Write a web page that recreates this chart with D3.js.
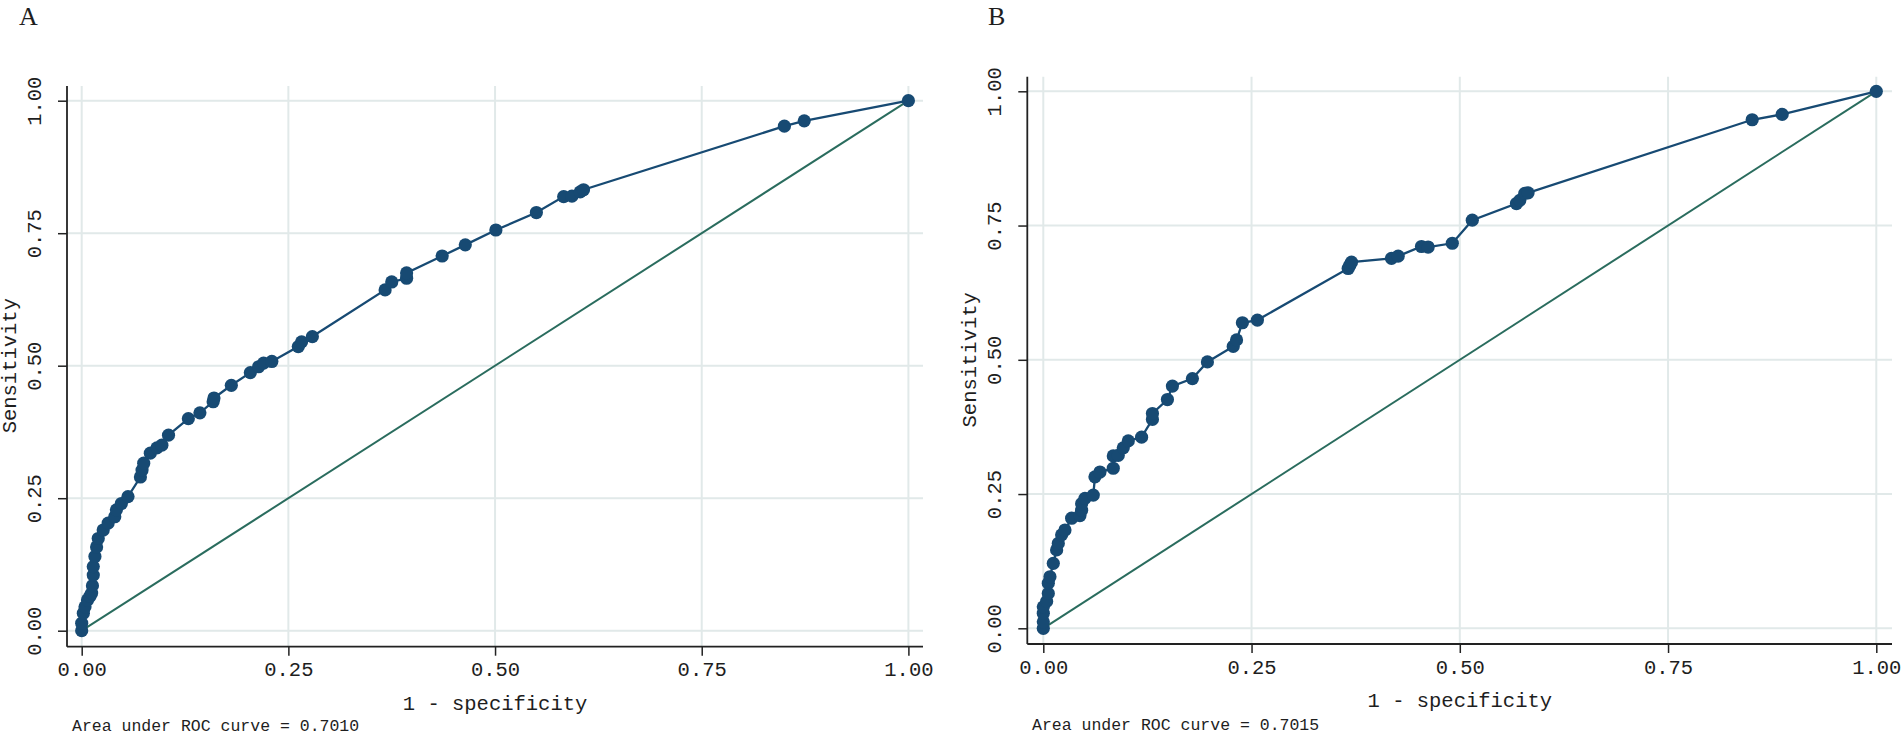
<!DOCTYPE html>
<html>
<head>
<meta charset="utf-8">
<script src="https://cdn.jsdelivr.net/npm/d3@7"></script>
<style>
  html, body { margin: 0; padding: 0; background: #fff; }
  svg { display: block; }
  text { fill: #1e1e1e; }
</style>
</head>
<body>
<svg id="chart" width="1904" height="737"></svg>
<script>
// ---------------- data ----------------
const panelLabels = ["A", "B"];
const tickValues = [0, 0.25, 0.5, 0.75, 1];
const tickLabels = ["0.00", "0.25", "0.50", "0.75", "1.00"];
const xTitle = "1 - specificity";
const yTitle = "Sensitivity";
const aucLabels = ["Area under ROC curve = 0.7010", "Area under ROC curve = 0.7015"];

const fprA = [0, 0, 0.002, 0.004, 0.007, 0.010, 0.012, 0.013, 0.014, 0.014, 0.016, 0.018, 0.020, 0.026,
  0.032, 0.040, 0.042, 0.048, 0.056, 0.071, 0.073, 0.075, 0.083, 0.091, 0.097, 0.105, 0.129, 0.143,
  0.159, 0.160, 0.181, 0.204, 0.214, 0.220, 0.230, 0.262, 0.266, 0.279, 0.367, 0.375, 0.393, 0.393,
  0.436, 0.464, 0.501, 0.550, 0.583, 0.593, 0.603, 0.607, 0.850, 0.874, 1];
const tprA = [0, 0.014, 0.033, 0.045, 0.058, 0.065, 0.071, 0.085, 0.105, 0.121, 0.140, 0.158, 0.174, 0.190,
  0.203, 0.215, 0.228, 0.240, 0.253, 0.290, 0.303, 0.316, 0.335, 0.345, 0.350, 0.369, 0.400, 0.411,
  0.432, 0.439, 0.463, 0.487, 0.498, 0.505, 0.508, 0.536, 0.545, 0.555, 0.643, 0.658, 0.665, 0.675,
  0.707, 0.728, 0.756, 0.789, 0.819, 0.820, 0.828, 0.832, 0.952, 0.962, 1];

const fprB = [0, 0, 0, 0, 0.004, 0.006, 0.006, 0.008, 0.012, 0.016, 0.018, 0.022, 0.026, 0.034, 0.044,
  0.046, 0.046, 0.050, 0.060, 0.062, 0.068, 0.084, 0.084, 0.090, 0.096, 0.102, 0.118, 0.131, 0.131,
  0.149, 0.155, 0.179, 0.197, 0.228, 0.232, 0.239, 0.257, 0.366, 0.368, 0.370, 0.418, 0.426, 0.454,
  0.462, 0.491, 0.515, 0.568, 0.572, 0.578, 0.582, 0.851, 0.887, 1];
const tprB = [0, 0.012, 0.028, 0.040, 0.050, 0.065, 0.084, 0.096, 0.121, 0.146, 0.158, 0.174, 0.183, 0.205, 0.210,
  0.220, 0.232, 0.242, 0.248, 0.282, 0.291, 0.298, 0.321, 0.322, 0.336, 0.349, 0.356, 0.389, 0.400,
  0.426, 0.451, 0.465, 0.496, 0.525, 0.537, 0.569, 0.574, 0.670, 0.676, 0.682, 0.689, 0.693, 0.711,
  0.710, 0.717, 0.760, 0.791, 0.797, 0.810, 0.811, 0.947, 0.957, 1];

// ---------------- layout ----------------
const panels = [
  { label: panelLabels[0], fpr: fprA, tpr: tprA, auc: aucLabels[0],
    x0: 81.7, x1: 908.4, y0: 630.7, y1: 100.7, axisX: 67, axisY: 646.7, top: 86, right: 923,
    labelX: 19, labelY: 25, aucX: 72, aucY: 731 },
  { label: panelLabels[1], fpr: fprB, tpr: tprB, auc: aucLabels[1],
    x0: 1043.3, x1: 1876.3, y0: 628.3, y1: 91.3, axisX: 1027.3, axisY: 644, top: 76.7, right: 1892,
    labelX: 988, labelY: 25, aucX: 1032, aucY: 730 }
];

const COL_CURVE = "#174a73";
const COL_DIAG = "#2a6c5e";
const COL_GRID = "#e1e9e9";
const COL_AXIS = "#222";
const MONO = "'Liberation Mono', 'DejaVu Sans Mono', monospace";

const svg = d3.select("#chart");

panels.forEach(p => {
  const g = svg.append("g");
  const x = d3.scaleLinear().domain([0, 1]).range([p.x0, p.x1]);
  const y = d3.scaleLinear().domain([0, 1]).range([p.y0, p.y1]);

  // grid
  g.append("g").selectAll("line").data(tickValues).join("line")
    .attr("x1", d => x(d)).attr("x2", d => x(d))
    .attr("y1", p.top).attr("y2", p.axisY)
    .attr("stroke", COL_GRID).attr("stroke-width", 2);
  g.append("g").selectAll("line").data(tickValues).join("line")
    .attr("y1", d => y(d)).attr("y2", d => y(d))
    .attr("x1", p.axisX).attr("x2", p.right)
    .attr("stroke", COL_GRID).attr("stroke-width", 2);

  // axes
  const xAxis = d3.axisBottom(x).tickValues(tickValues)
    .tickFormat((d, i) => tickLabels[i]).tickSize(9).tickPadding(6);
  const gx = g.append("g").attr("transform", `translate(0,${p.axisY})`).call(xAxis);
  gx.select(".domain").remove();
  gx.selectAll(".tick line").attr("stroke", COL_AXIS).attr("stroke-width", 1.5);
  gx.selectAll(".tick text").attr("font-family", MONO).attr("font-size", 20.5)
    .attr("fill", "#1e1e1e").attr("dy", "0.72em");

  const yAxis = d3.axisLeft(y).tickValues(tickValues)
    .tickFormat((d, i) => tickLabels[i]).tickSize(9).tickPadding(0);
  const gy = g.append("g").attr("transform", `translate(${p.axisX},0)`).call(yAxis);
  gy.select(".domain").remove();
  gy.selectAll(".tick line").attr("stroke", COL_AXIS).attr("stroke-width", 1.5);
  gy.selectAll(".tick text").attr("font-family", MONO).attr("font-size", 20.5)
    .attr("fill", "#1e1e1e")
    .attr("x", null).attr("dy", null)
    .attr("text-anchor", "middle")
    .attr("transform", "translate(-26,0) rotate(-90)");

  // axis lines
  g.append("line").attr("x1", p.axisX).attr("x2", p.axisX).attr("y1", p.top).attr("y2", p.axisY)
    .attr("stroke", COL_AXIS).attr("stroke-width", 1.8);
  g.append("line").attr("x1", p.axisX).attr("x2", p.right).attr("y1", p.axisY).attr("y2", p.axisY)
    .attr("stroke", COL_AXIS).attr("stroke-width", 1.8);

  // diagonal reference
  g.append("line")
    .attr("x1", x(0)).attr("y1", y(0)).attr("x2", x(1)).attr("y2", y(1))
    .attr("stroke", COL_DIAG).attr("stroke-width", 2);

  // ROC curve
  const pts = p.fpr.map((v, i) => [v, p.tpr[i]]);
  g.append("path").datum(pts)
    .attr("d", d3.line().x(d => x(d[0])).y(d => y(d[1])))
    .attr("fill", "none").attr("stroke", COL_CURVE).attr("stroke-width", 2.3);
  g.append("g").selectAll("circle").data(pts).join("circle")
    .attr("cx", d => x(d[0])).attr("cy", d => y(d[1])).attr("r", 6.6)
    .attr("fill", COL_CURVE);

  // titles
  g.append("text").attr("x", (p.x0 + p.x1) / 2).attr("y", p.axisY + 63)
    .attr("text-anchor", "middle").attr("font-family", MONO).attr("font-size", 20.5)
    .text(xTitle);
  g.append("text")
    .attr("transform", `translate(${p.axisX - 51},${(p.y0 + p.y1) / 2}) rotate(-90)`)
    .attr("text-anchor", "middle").attr("font-family", MONO).attr("font-size", 20.5)
    .text(yTitle);
  g.append("text").attr("x", p.aucX).attr("y", p.aucY)
    .attr("font-family", MONO).attr("font-size", 16.5)
    .text(p.auc);
  g.append("text").attr("x", p.labelX).attr("y", p.labelY)
    .attr("font-family", "'Liberation Serif', 'DejaVu Serif', serif").attr("font-size", 26)
    .text(p.label);
});
</script>
</body>
</html>
